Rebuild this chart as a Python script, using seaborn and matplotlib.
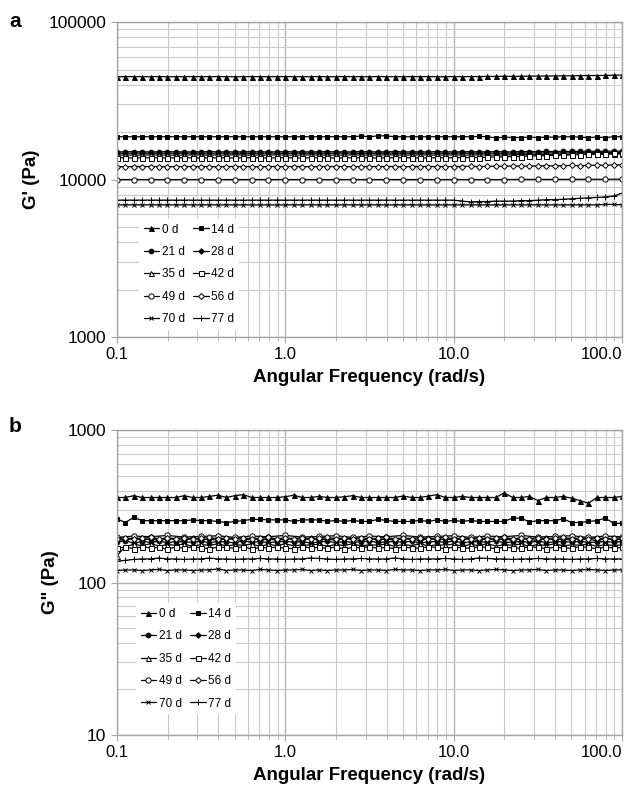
import numpy as np
import pandas as pd
import matplotlib
matplotlib.use("Agg")
import matplotlib.pyplot as plt
import seaborn as sns
from matplotlib.ticker import LogLocator, FixedLocator, FixedFormatter, NullFormatter

# ---------------- data ----------------
labels = ["0 d", "14 d", "21 d", "28 d", "35 d", "42 d", "49 d", "56 d", "70 d", "77 d"]

mant = [1.0, 1.122, 1.259, 1.413, 1.585, 1.778, 1.995, 2.239, 2.512, 2.818,
        3.162, 3.548, 3.981, 4.467, 5.012, 5.623, 6.310, 7.079, 7.943, 8.913]
freq = [m * 10.0 ** d for d in (-1, 0, 1) for m in mant] + [100.0]
freq_sparse = freq[::2]

# G' (Pa)
gp_0 = [45000,45000,45100,45000,45000,45100,45000,45000,45000,45100,
        45000,45000,45100,45000,45000,45000,45100,45000,45000,45000,
        45100,45000,45000,45000,45100,45000,45000,45100,45000,45000,
        45000,45100,45000,45000,45000,45100,45000,45100,45000,45000,
        45100,45000,45100,45100,45200,45200,45300,45200,45300,45400,
        45400,45500,45500,45600,45600,45700,45800,45800,45900,46000,46100]
gp_14 = [18700,18700,18700,18700,18700,18700,18700,18700,18700,18700,
         18700,18700,18700,18700,18700,18700,18700,18700,18700,18700,
         18700,18700,18700,18700,18700,18700,18700,18700,18700,18900,
         18700,18950,18950,18700,18700,18700,18700,18700,18700,18700,
         18700,18700,18700,18800,18700,18400,18600,18500,18500,18600,
         18500,18600,18600,18700,18700,18600,18500,18600,18500,18700,18700]
gp_21 = [15000,15000,15050,15000,15000,15000,15050,15000,15000,15000,
         15000,15050,15000,15000,15000,15000,15050,15000,15000,15000,
         15050,15000,15000,15000,15000,15050,15000,15000,15000,15050,
         15000,15000,15000,15050,15000,15000,15000,15000,15050,15000,
         15000,15000,15050,15000,15000,15050,15000,15000,15050,15050,
         15050,15100,15050,15100,15100,15100,15150,15100,15150,15150,15150]
gp_28 = [14700,14700,14700,14750,14700,14700,14700,14700,14750,14700,
         14700,14700,14700,14750,14700,14700,14700,14700,14750,14700,
         14700,14700,14750,14700,14700,14700,14700,14750,14700,14700,
         14700,14700,14750,14700,14700,14700,14750,14700,14700,14700,
         14700,14750,14700,14700,14750,14700,14700,14750,14700,14750,
         14750,14750,14800,14750,14800,14800,14800,14850,14800,14850,14850]
gp_35 = [14300,14300,14300,14300,14350,14300,14300,14300,14300,14350,
         14300,14300,14300,14300,14350,14300,14300,14300,14300,14350,
         14300,14300,14300,14350,14300,14300,14300,14300,14350,14300,
         14300,14300,14350,14300,14300,14300,14350,14300,14300,14300,
         14350,14300,14300,14350,14300,14300,14350,14350,14400,14350,
         14400,14400,14450,14400,14450,14500,14450,14500,14500,14550,14550]
gp_42 = [13750,13750,13700,13750,13750,13750,13700,13750,13750,13750,
         13700,13750,13750,13750,13700,13750,13750,13750,13700,13750,
         13750,13750,13700,13750,13750,13750,13700,13750,13750,13750,
         13750,13700,13750,13750,13750,13750,13700,13750,13750,13750,
         13750,13800,13800,13800,13850,13900,13950,14000,14000,14100,
         14150,14200,14250,14300,14350,14400,14500,14550,14600,14650,14700]
gp_49 = [10000,10000,10000,10000,10000,10000,10000,10000,10000,10000,
         10000,10000,10000,10000,10000,10000,10000,10000,10000,10000,
         10000,10000,10000,10000,10020,10020,10020,10030,10040,10040,10050]
gp_56 = [12100,12050,12100,12100,12100,12100,12050,12100,12100,12100,
         12100,12100,12050,12100,12100,12100,12100,12050,12100,12100,
         12100,12100,12100,12050,12100,12100,12100,12100,12050,12100,
         12100,12100,12100,12100,12050,12100,12100,12100,12100,12100,
         12100,12100,12150,12100,12150,12150,12150,12200,12150,12200,
         12200,12250,12200,12250,12300,12250,12300,12350,12300,12400,12400]
gp_70 = [6900,6900,6900,6900,6900,6900,6900,6900,6900,6900,
         6900,6900,6900,6900,6900,6900,6900,6900,6900,6900,
         6900,6900,6900,6900,6900,6900,6900,6900,6900,6900,
         6900,6900,6900,6900,6900,6900,6900,6900,6900,6900,
         6900,6900,6900,6900,6900,6900,6900,6900,6900,6900,
         6900,6900,6900,6900,6900,6900,6900,6900,6950,6950,6900]
gp_77 = [7400,7400,7400,7400,7400,7400,7400,7400,7400,7400,
         7400,7400,7400,7400,7400,7400,7400,7400,7400,7400,
         7400,7400,7400,7400,7400,7400,7400,7400,7400,7400,
         7400,7400,7400,7400,7400,7400,7400,7400,7400,7400,
         7400,7300,7200,7250,7250,7300,7300,7300,7350,7350,
         7400,7450,7450,7500,7550,7600,7650,7700,7750,7850,8200]

# G'' (Pa)
gpp_0 = [362,362,372,362,362,362,362,362,372,362,
         362,368,375,362,372,378,362,362,362,362,
         366,375,362,362,368,362,362,366,372,362,
         362,362,362,362,370,362,362,370,378,362,
         362,368,362,362,362,362,388,362,362,368,
         345,362,362,368,358,345,332,362,362,362,368]
gpp_14 = [262,248,268,255,255,255,255,255,255,258,
          255,255,252,248,252,255,260,260,258,258,
          258,252,258,258,258,252,256,252,256,252,
          252,260,256,252,252,252,256,252,258,252,
          256,252,256,252,252,252,252,265,265,250,
          255,255,255,262,248,248,252,255,265,245,245]
gpp_21 = [185,188,182,186,184,187,183,186,185,184,
          187,183,186,185,182,188,184,186,183,185,
          187,184,186,182,185,187,183,186,184,185,
          188,183,185,186,184,187,182,185,186,184,
          187,183,185,186,184,188,183,185,186,184,
          187,183,185,186,184,187,183,185,186,184,186]
gpp_28 = [192,190,195,191,193,189,194,192,190,195,
          191,193,190,194,192,189,195,191,193,190,
          194,192,189,195,191,193,190,194,192,189,
          195,191,193,190,194,192,189,195,191,193,
          190,194,192,189,195,191,193,190,194,192,
          189,195,191,193,190,194,192,189,195,191,193]
gpp_35 = [150,172,178,175,180,174,177,176,179,173,
          178,175,180,174,177,176,179,173,178,175,
          180,174,177,176,179,173,178,175,180,174,
          177,176,179,173,178,175,180,174,177,176,
          179,173,178,175,180,174,177,176,179,173,
          178,175,180,174,177,176,179,173,178,175,177]
gpp_42 = [168,171,167,172,169,170,166,171,168,172,
          169,167,171,170,168,172,166,170,169,171,
          168,167,172,169,170,168,171,166,170,169,
          172,168,170,167,171,169,168,172,170,167,
          171,169,168,172,170,167,171,169,168,172,
          170,167,171,169,168,172,170,167,171,169,170]
gpp_49 = [198,202,200,204,199,201,203,198,202,200,
          204,199,201,203,198,202,200,204,199,201,
          203,198,202,200,204,199,201,203,198,202,200]
gpp_56 = [194,197,192,195,198,193,196,194,197,192,
          195,198,193,196,194,197,192,195,198,193,
          196,194,197,192,195,198,193,196,194,197,
          192,195,198,193,196,194,197,192,195,198,
          193,196,194,197,192,195,198,193,196,194,
          197,192,195,198,193,196,194,197,192,195,196]
gpp_70 = [120,121,121,120,121,122,120,121,121,120,
          121,121,123,120,121,121,120,122,121,120,
          121,121,122,120,121,120,121,121,122,120,
          121,121,120,122,121,121,120,121,121,122,
          120,121,121,120,121,122,121,120,121,121,
          122,120,121,121,120,121,122,121,120,121,121]
gpp_77 = [138,140,142,143,143,145,143,143,142,143,
          143,145,143,143,142,143,143,144,143,143,
          142,143,143,145,144,143,142,143,143,144,
          143,143,143,145,143,142,143,143,143,144,
          143,142,143,145,144,143,143,142,143,143,
          144,143,143,143,142,143,143,144,143,143,143]

gp_series = [gp_0, gp_14, gp_21, gp_28, gp_35, gp_42, gp_49, gp_56, gp_70, gp_77]
gpp_series = [gpp_0, gpp_14, gpp_21, gpp_28, gpp_35, gpp_42, gpp_49, gpp_56, gpp_70, gpp_77]

xticks = [0.1, 1, 10, 100]
xticklabels = ["0.1", "1.0", "10.0", "100.0"]

# ---------------- style ----------------
markers = ["^", "s", "o", "D", "^", "s", "o", "D", "x", "+"]
filled = [True, True, True, True, False, False, False, False, True, True]
msizes = [3.6, 3.4, 3.4, 2.8, 3.6, 3.6, 3.8, 3.0, 3.4, 4.5]

sns.set_style("white")
plt.rcParams["font.family"] = ["Liberation Sans", "DejaVu Sans"]
plt.rcParams["text.color"] = "black"
plt.rcParams["axes.labelcolor"] = "black"

fig = plt.figure(figsize=(6.42, 7.91), dpi=100)
ax_a = fig.add_axes([0.182, 0.574, 0.787, 0.398])
ax_b = fig.add_axes([0.182, 0.071, 0.787, 0.385])

grid_c = "#c9c9c9"
spine_c = "#a6a6a6"


def draw(ax, series, ylim, yticks, yticklabels, ylabel, leg_anchor):
    for i, (lab, vals) in enumerate(zip(labels, series)):
        xs = freq if len(vals) == len(freq) else freq_sparse
        df = pd.DataFrame({"freq": xs, "val": vals})
        fc = "black" if filled[i] else "white"
        sns.lineplot(data=df, x="freq", y="val", ax=ax, color="black", lw=0.9,
                     marker=markers[i], markersize=msizes[i], markerfacecolor=fc,
                     markeredgecolor="black", markeredgewidth=0.7, label=lab,
                     legend=False)
    ax.set_xscale("log")
    ax.set_yscale("log")
    ax.set_xlim(0.1, 100)
    ax.set_ylim(*ylim)
    ax.xaxis.set_major_locator(FixedLocator(xticks))
    ax.xaxis.set_major_formatter(FixedFormatter(xticklabels))
    ax.xaxis.set_minor_locator(LogLocator(base=10, subs=np.arange(2, 10)))
    ax.xaxis.set_minor_formatter(NullFormatter())
    ax.yaxis.set_major_locator(FixedLocator(yticks))
    ax.yaxis.set_major_formatter(FixedFormatter(yticklabels))
    ax.yaxis.set_minor_locator(LogLocator(base=10, subs=np.arange(2, 10)))
    ax.yaxis.set_minor_formatter(NullFormatter())
    ax.grid(which="minor", color=grid_c, lw=0.8)
    ax.grid(which="major", color="#b3b3b3", lw=1.0)
    ax.set_axisbelow(True)
    for s in ax.spines.values():
        s.set_color(spine_c)
        s.set_linewidth(1.0)
    ax.tick_params(axis="x", which="major", direction="out", length=4, color=spine_c,
                   labelsize=12, pad=3, bottom=True, labelcolor="black")
    ax.tick_params(axis="x", which="minor", direction="out", length=3, color=spine_c,
                   bottom=True)
    ax.tick_params(axis="y", which="major", direction="out", length=4, color=spine_c,
                   labelsize=12.5, left=True, labelcolor="black")
    ax.tick_params(axis="y", which="minor", left=False)
    # last x label is right-aligned to the axis end, as in the reference
    xl = ax.get_xticklabels()
    xl[-1].set_horizontalalignment("right")
    ax.set_xlabel("Angular Frequency (rad/s)", fontsize=13.5, fontweight="bold", labelpad=5)
    ax.set_ylabel(ylabel, fontsize=13.5, fontweight="bold", labelpad=6)

    lines = ax.get_lines()
    order = [0, 2, 4, 6, 8, 1, 3, 5, 7, 9]
    hs = [lines[k] for k in order]
    ls = [labels[k] for k in order]
    leg = ax.legend(hs, ls, ncol=2, loc="lower left", bbox_to_anchor=leg_anchor,
                    fontsize=8.5, frameon=True, facecolor="white", edgecolor="none",
                    framealpha=1.0, fancybox=False, handlelength=1.3, handletextpad=0.25,
                    columnspacing=0.7, labelspacing=0.88, borderpad=0.4,
                    labelcolor="black")
    return leg


draw(ax_a, gp_series, (1000, 100000), [1000, 10000, 100000],
     ["1000", "10000", "100000"], "G' (Pa)", (0.032, 0.004))
draw(ax_b, gpp_series, (10, 1000), [10, 100, 1000],
     ["10", "100", "1000"], 'G" (Pa)', (0.026, 0.048))

fig.text(0.014, 0.973, "a", fontsize=15, fontweight="bold", va="center")
fig.text(0.014, 0.461, "b", fontsize=15, fontweight="bold", va="center")

fig.savefig("out.png", dpi=100)
